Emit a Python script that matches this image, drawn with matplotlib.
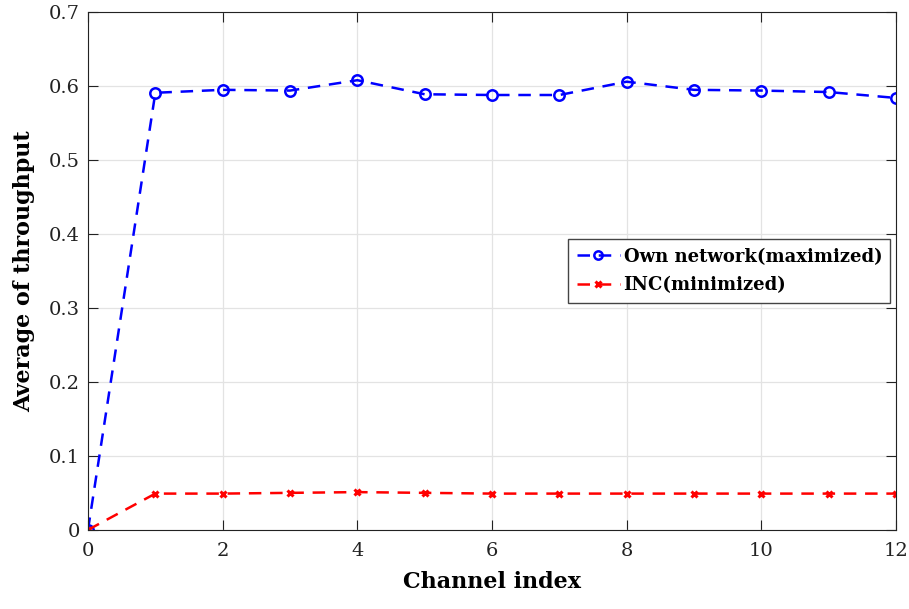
import matplotlib.pyplot as plt
import numpy as np

plt.rcParams['font.family'] = ['DejaVu Serif']

channels = list(range(13))
own_network = [0.0, 0.591, 0.595, 0.594, 0.608, 0.589, 0.588, 0.588, 0.606, 0.595, 0.594, 0.592, 0.584]
inc = [0.0, 0.049, 0.049, 0.050, 0.051, 0.050, 0.049, 0.049, 0.049, 0.049, 0.049, 0.049, 0.049]

fig = plt.figure(figsize=(9.09, 6.09), dpi=100)
ax = fig.add_axes([0.0968, 0.130, 0.889, 0.850])

ax.plot(channels, own_network, linestyle='--', color='blue', linewidth=1.8,
        marker='o', markersize=7.5, markerfacecolor='none', markeredgewidth=1.8,
        dashes=(5, 3.5), label='Own network(maximized)')
ax.plot(channels, inc, linestyle='--', color='red', linewidth=1.8,
        marker='x', markersize=5, markeredgewidth=2.2,
        dashes=(5, 3.5), label='INC(minimized)')

ax.set_xlim(0, 12)
ax.set_ylim(0, 0.7)
ax.set_xticks(np.arange(0, 13, 2))
ax.set_yticks(np.arange(0, 0.71, 0.1))
ax.set_yticklabels(['0', '0.1', '0.2', '0.3', '0.4', '0.5', '0.6', '0.7'])
ax.grid(True, color='#e3e3e3', linewidth=0.9)
ax.tick_params(direction='in', top=True, right=True, labelsize=14, length=7, width=0.8,
               colors='#222222')
ax.tick_params(axis='x', pad=9)
ax.tick_params(axis='y', pad=6)
for s in ax.spines.values():
    s.set_linewidth(0.8)
    s.set_color('#222222')

ax.set_xlabel('Channel index', fontsize=16, fontweight='bold', labelpad=8)
ax.set_ylabel('Average of throughput', fontsize=16, fontweight='bold', labelpad=10)

leg = ax.legend(loc='center right', bbox_to_anchor=(0.9995, 0.5),
                prop={'weight': 'bold', 'size': 13}, fancybox=False, framealpha=1,
                edgecolor='#444444', handlelength=2.4, handletextpad=0.2,
                borderpad=0.45, labelspacing=0.6, borderaxespad=0.3, markerscale=0.8)
leg.get_frame().set_linewidth(1.0)

fig.savefig('out.png', dpi=100)
